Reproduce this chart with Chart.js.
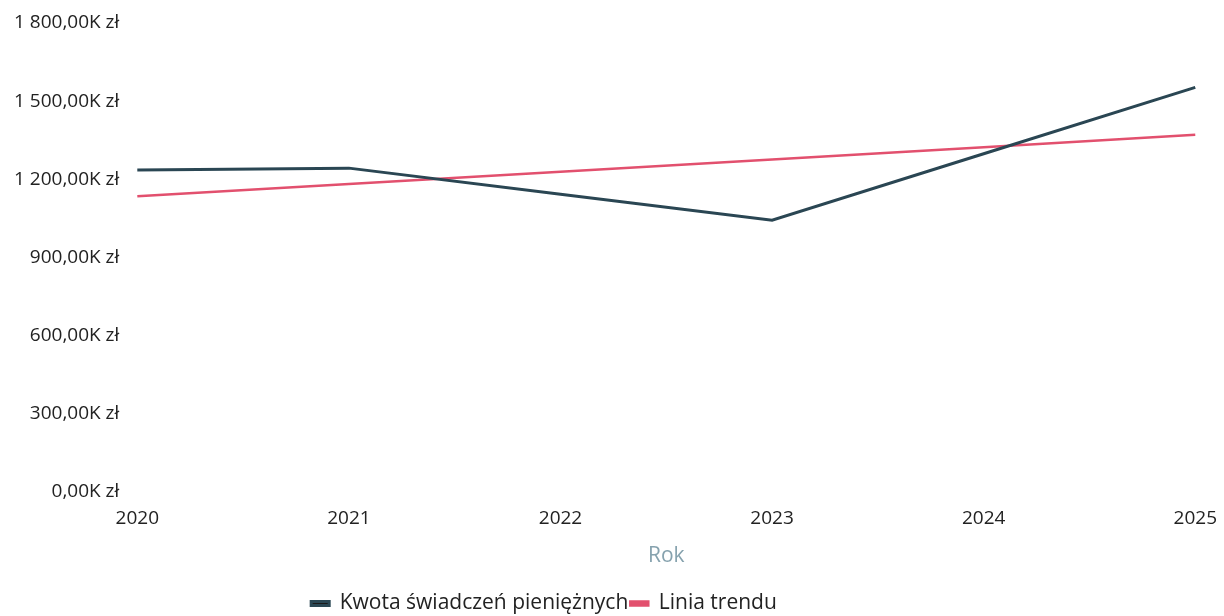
<!DOCTYPE html>
<html>
<head>
<meta charset="utf-8">
<script src="https://cdn.jsdelivr.net/npm/chart.js@4/dist/chart.umd.min.js"></script>
<style>
  html, body { margin: 0; padding: 0; background: #fff; }
  #wrap { width: 1224px; height: 616px; }
</style>
</head>
<body>
<div id="wrap"><canvas id="chart-kwota"></canvas></div>
<script>
// dane (w tys. zł)
const lata = ['2020', '2021', '2022', '2023', '2024', '2025']
const kwota = [1236, 1243, 1143, 1043, 1298, 1553]
const trend = [1135, 1182, 1229, 1276, 1323, 1371]
const yTicks = [0, 300, 600, 900, 1200, 1500, 1800]

//! format etykiet osi Y: "1 800,00K zł"
function formatK(v){
    const parts = v.toFixed(2).split('.')
    const int = parts[0].replace(/\B(?=(\d{3})+(?!\d))/g, ' ')
    return int + ',' + parts[1] + 'K zł'
}

//! przesuwa legende w lewo, tak jak na oryginale
const legendShift = {
    id: 'legendShift',
    afterLayout(chart){
        const lg = chart.legend
        const dx = 544 - (lg.left + lg.right) / 2
        lg.left += dx
        lg.right += dx
        if (lg.legendHitBoxes) lg.legendHitBoxes.forEach(h => { h.left += dx })
    }
}

Chart.defaults.font.family = '"Open Sans", sans-serif'
Chart.defaults.color = '#333'

const ctx = document.getElementById('chart-kwota').getContext('2d')
const myChart = new Chart(ctx, {
    type: 'line',
    data: {
        labels: lata,
        datasets: [
            {
                label: 'Kwota świadczeń pieniężnych',
                data: kwota,
                borderColor: '#2a4653',
                backgroundColor: '#1a1a1a',
                borderWidth: 3,
                pointRadius: 0,
                tension: 0
            },
            {
                label: 'Linia trendu',
                data: trend,
                borderColor: '#e2506e',
                backgroundColor: '#e2506e',
                borderWidth: 2.5,
                pointRadius: 0,
                tension: 0
            }
        ]
    },
    plugins: [legendShift],
    options: {
        responsive: true,
        maintainAspectRatio: false,
        animation: false,
        layout: { padding: { left: 4, right: -6, top: 23, bottom: -8 } },
        plugins: {
            tooltip: { enabled: false },
            legend: {
                position: 'bottom',
                labels: {
                    boxWidth: 18,
                    boxHeight: 4,
                    padding: 2,
                    color: '#222',
                    font: { size: 21 }
                }
            }
        },
        scales: {
            x: {
                grid: { display: false },
                border: { display: false },
                ticks: { color: '#222', font: { size: 19 }, maxRotation: 0, padding: 7 },
                title: { display: true, text: 'Rok', color: '#86a2ae', font: { size: 21 }, padding: { top: 7, bottom: 22 } }
            },
            y: {
                min: 0,
                max: 1800,
                afterBuildTicks: axis => { axis.ticks = yTicks.map(v => ({ value: v })) },
                grid: { display: false },
                border: { display: false },
                ticks: { color: '#222', font: { size: 19 }, padding: 10, callback: v => formatK(v) }
            }
        }
    }
})
</script>
</body>
</html>
